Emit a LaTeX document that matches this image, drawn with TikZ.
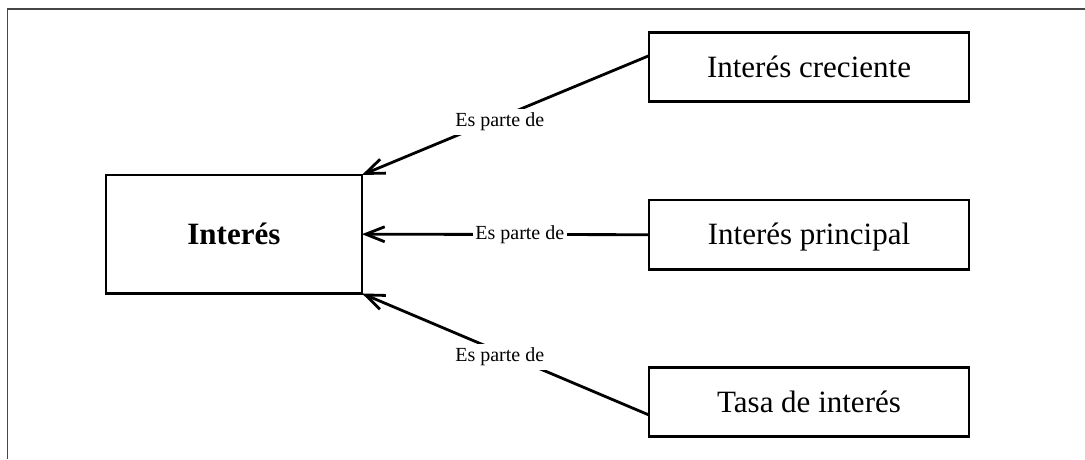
\documentclass[tikz,border=0pt]{standalone}
\usepackage{fontspec}
\setmainfont{Liberation Serif}
\usetikzlibrary{arrows.meta}
\definecolor{framecol}{RGB}{70,70,70}
\begin{document}
\begin{tikzpicture}[x=1pt,y=-1pt,
  concept/.style={draw, line width=2.6pt, inner sep=0pt, outer sep=0pt,
    font=\fontsize{31}{37}\selectfont, text height=20pt, text depth=0pt},
  link/.style={line width=2.8pt, -{Straight Barb[length=19pt,width=15pt]}},
  linklabel/.style={fill=white, inner xsep=2.5pt, inner ysep=4pt,
    font=\fontsize{20}{24}\selectfont}]
  \useasboundingbox (0,0) rectangle (1085,459);
  % page frame (top and left edges)
  \draw[framecol, line width=1.8pt] (1085,9) -- (7.5,9) -- (7.5,459);

  % concepts
  \node[concept, minimum width=256pt, minimum height=118.5pt] (int) at (233.9,234.2) {\textbf{Interés}};
  \node[concept, minimum width=320pt, minimum height=69pt] (cre) at (809,67.2) {Interés creciente};
  \node[concept, minimum width=320pt, minimum height=69.3pt] (pri) at (809,234.7) {Interés principal};
  \node[concept, minimum width=320pt, minimum height=69.4pt] (tas) at (809,402) {Tasa de interés};

  % relations
  \draw[link] ([yshift=11.5pt]cre.west) -- node[linklabel, pos=0.52, yshift=-4pt] (l1) {Es parte de} (int.north east);
  \draw[link] (pri.west) -- node[linklabel, pos=0.45] (l2) {Es parte de} (int.east);
  \draw[link] ([yshift=-13pt]tas.west) -- node[linklabel, pos=0.52, yshift=-5pt] (l3) {Es parte de} (int.south east);
\end{tikzpicture}
\end{document}
